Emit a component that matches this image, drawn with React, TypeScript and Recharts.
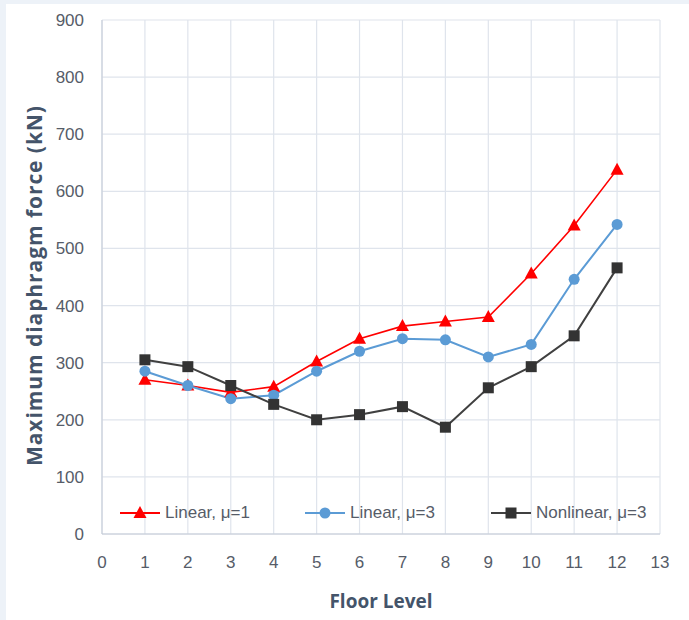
import { LineChart, Line, XAxis, YAxis, CartesianGrid } from "recharts";

const floors = [1, 2, 3, 4, 5, 6, 7, 8, 9, 10, 11, 12];
const linearMu1 = [270, 260, 248, 258, 302, 342, 364, 372, 380, 456, 540, 638];
const linearMu3 = [285, 260, 237, 243, 285, 320, 342, 340, 310, 332, 446, 542];
const nonlinearMu3 = [305, 293, 260, 227, 200, 209, 223, 187, 256, 293, 347, 466];
const xTicks = [0, 1, 2, 3, 4, 5, 6, 7, 8, 9, 10, 11, 12, 13];
const yTicks = [0, 100, 200, 300, 400, 500, 600, 700, 800, 900];

const data = floors.map((f, i) => ({
  floor: f,
  lin1: linearMu1[i],
  lin3: linearMu3[i],
  nonlin3: nonlinearMu3[i],
}));

const RED = "#ff0000";
const BLUE = "#5b9bd5";
const DARK = "#404040";
const TICK_COLOR = "#565c68";
const TITLE_COLOR = "#44546a";
const TICK_FONT = "'Liberation Sans Narrow', 'Liberation Sans', sans-serif";
const TITLE_FONT = "'Open Sans', 'Liberation Sans', sans-serif";

const Triangle = (props: any) => {
  const { cx, cy, index } = props;
  if (cx == null || cy == null) return <g key={`t-${index}`} />;
  return (
    <path
      key={`t-${index}`}
      d={`M${cx},${cy - 7} L${cx + 6.5},${cy + 5} L${cx - 6.5},${cy + 5} Z`}
      fill={RED}
    />
  );
};

const Circle = (props: any) => {
  const { cx, cy, index } = props;
  if (cx == null || cy == null) return <g key={`c-${index}`} />;
  return <circle key={`c-${index}`} cx={cx} cy={cy} r={5.5} fill={BLUE} />;
};

const Square = (props: any) => {
  const { cx, cy, index } = props;
  if (cx == null || cy == null) return <g key={`s-${index}`} />;
  return <rect key={`s-${index}`} x={cx - 5.5} y={cy - 5.5} width={11} height={11} fill="#333333" />;
};

const legendItems = [
  { name: "Linear, \u03bc=1", color: RED, marker: "triangle", left: 120 },
  { name: "Linear, \u03bc=3", color: BLUE, marker: "circle", left: 305 },
  { name: "Nonlinear, \u03bc=3", color: DARK, marker: "square", left: 491 },
];

const ChartLegend = () => (
  <div style={{ position: "absolute", left: 0, top: 500, width: 689, height: 26 }}>
    {legendItems.map((item) => (
      <div
        key={item.name}
        style={{ position: "absolute", left: item.left, top: 0, display: "flex", alignItems: "center", height: 26 }}
      >
        <svg width={40} height={16} style={{ display: "block" }}>
          <line x1={0} y1={8} x2={40} y2={8} stroke={item.color} strokeWidth={2} />
          {item.marker === "triangle" && <path d="M20,1 L26.5,13 L13.5,13 Z" fill={item.color} />}
          {item.marker === "circle" && <circle cx={20} cy={8} r={5.5} fill={item.color} />}
          {item.marker === "square" && <rect x={14.5} y={2.5} width={11} height={11} fill="#333333" />}
        </svg>
        <span style={{ marginLeft: 5, fontFamily: TICK_FONT, fontSize: 17, color: TICK_COLOR, whiteSpace: "nowrap" }}>
          {item.name}
        </span>
      </div>
    ))}
  </div>
);

export default function App() {
  return (
    <div style={{ position: "absolute", left: 0, top: 0, width: 689, height: 620, background: "#edf2f8", overflow: "hidden" }}>
      <div style={{ position: "absolute", left: 6, top: 4, right: 0, bottom: 0, background: "#ffffff" }} />
      <div style={{ position: "absolute", left: 0, top: 0 }}>
        <LineChart width={689} height={620} data={data} margin={{ top: 20, right: 29, left: 0, bottom: 0 }}>
          <CartesianGrid stroke="#dfe4ec" strokeWidth={1.2} />
          <XAxis
            dataKey="floor"
            type="number"
            domain={[0, 13]}
            ticks={xTicks}
            interval={0}
            height={86}
            tickSize={0}
            tickMargin={22}
            axisLine={{ stroke: "#c3cad6" }}
            tick={{ fill: TICK_COLOR, fontSize: 17, fontFamily: TICK_FONT }}
            label={{
              content: ({ viewBox }: any) => (
                <text
                  x={viewBox.x + viewBox.width / 2}
                  y={608}
                  textAnchor="middle"
                  fill={TITLE_COLOR}
                  fontFamily={TITLE_FONT}
                  fontWeight="bold"
                  fontSize={19}
                >
                  Floor Level
                </text>
              ),
            }}
          />
          <YAxis
            type="number"
            domain={[0, 900]}
            ticks={yTicks}
            interval={0}
            width={102}
            tickSize={0}
            tickMargin={18}
            axisLine={{ stroke: "#c3cad6" }}
            tick={{ fill: TICK_COLOR, fontSize: 17, fontFamily: TICK_FONT }}
            label={{
              content: () => (
                <text
                  x={0}
                  y={0}
                  transform="translate(42,286) rotate(-90)"
                  textAnchor="middle"
                  fill={TITLE_COLOR}
                  fontFamily={TITLE_FONT}
                  fontWeight="bold"
                  fontSize={21}
                  textLength={360}
                  lengthAdjust="spacing"
                >
                  Maximum diaphragm force (kN)
                </text>
              ),
            }}
          />
          <Line
            dataKey="lin1"
            name="Linear, \u03bc=1"
            stroke={RED}
            strokeWidth={1.6}
            dot={Triangle}
            activeDot={false}
            isAnimationActive={false}
          />
          <Line
            dataKey="lin3"
            name="Linear, \u03bc=3"
            stroke={BLUE}
            strokeWidth={2}
            dot={Circle}
            activeDot={false}
            isAnimationActive={false}
          />
          <Line
            dataKey="nonlin3"
            name="Nonlinear, \u03bc=3"
            stroke={DARK}
            strokeWidth={2}
            dot={Square}
            activeDot={false}
            isAnimationActive={false}
          />
        </LineChart>
      </div>
      <ChartLegend />
    </div>
  );
}
